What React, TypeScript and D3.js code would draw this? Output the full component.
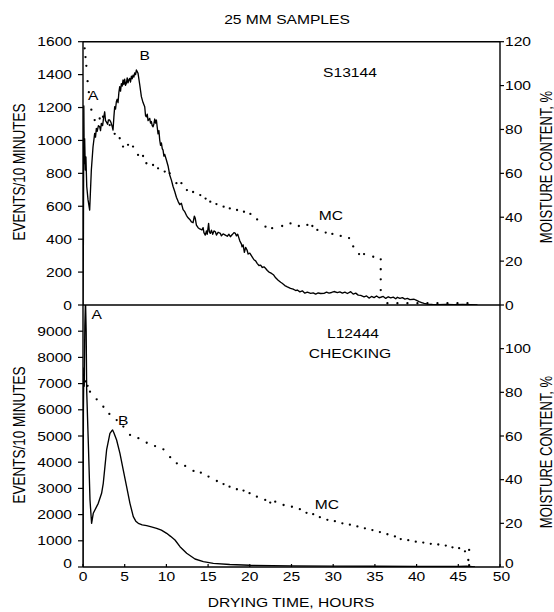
import React from "react";
import * as d3 from "d3";

// ---------- DATA ----------
const hourTicks = [0, 5, 10, 15, 20, 25, 30, 35, 40, 45, 50];
const topEventTicks = [0, 200, 400, 600, 800, 1000, 1200, 1400, 1600];
const bottomEventTicks = [0, 1000, 2000, 3000, 4000, 5000, 6000, 7000, 8000, 9000];
const topMcTicks = [0, 20, 40, 60, 80, 100, 120];
const bottomMcTicks = [0, 20, 40, 60, 80, 100];

// S13144 acoustic events/10 min  [hours, events]
const s13144Events: [number, number][] = [
  [0, 0], [0.05, 420], [0.1, 1210], [0.15, 860], [0.2, 1010], [0.28, 820], [0.35, 900], [0.45, 720],
  [0.6, 640], [0.8, 577], [1.0, 820], [1.2, 960], [1.4, 1043], [1.5, 1020], [1.6, 1073], [1.7, 1055],
  [1.85, 1090], [2.0, 1083], [2.1, 1060], [2.2, 1104], [2.35, 1090], [2.45, 1130], [2.6, 1174], [2.7, 1120],
  [2.8, 1113], [2.95, 1098], [3.05, 1125], [3.2, 1124], [3.35, 1110], [3.5, 1085], [3.6, 1063], [3.7, 1140],
  [3.8, 1205], [3.9, 1190], [4.0, 1235], [4.1, 1250], [4.2, 1230], [4.3, 1290], [4.4, 1326], [4.5, 1300],
  [4.6, 1345], [4.7, 1330], [4.8, 1367], [4.9, 1340], [5.0, 1372], [5.1, 1335], [5.2, 1347], [5.3, 1380],
  [5.4, 1350], [5.5, 1368], [5.6, 1377], [5.7, 1355], [5.8, 1390], [5.9, 1375], [6.0, 1397], [6.1, 1385],
  [6.2, 1410], [6.3, 1400], [6.4, 1428], [6.5, 1418], [6.6, 1408], [6.8, 1340], [7.0, 1266], [7.2, 1230],
  [7.4, 1205], [7.5, 1150], [7.6, 1144], [7.7, 1160], [7.8, 1120], [8.0, 1134], [8.1, 1105], [8.2, 1115],
  [8.3, 1090], [8.4, 1083], [8.5, 1100], [8.6, 1130], [8.7, 1105], [8.8, 1124], [8.9, 1080], [9.0, 1040],
  [9.1, 1060], [9.2, 1002], [9.3, 970], [9.4, 985], [9.5, 950], [9.6, 941], [9.7, 905], [9.8, 915],
  [10.0, 881], [10.2, 845], [10.4, 790], [10.6, 759], [10.8, 720], [11.0, 690], [11.2, 655], [11.4, 630],
  [11.6, 610], [11.8, 618], [12.0, 580], [12.2, 567], [12.4, 545], [12.6, 530], [12.86, 516], [13.0, 505],
  [13.2, 500], [13.35, 540], [13.46, 527], [13.6, 486], [13.8, 470], [14.0, 462], [14.26, 456], [14.4, 470],
  [14.5, 440], [14.66, 425], [14.8, 450], [14.9, 430], [15.06, 496], [15.15, 445], [15.26, 435], [15.4, 455],
  [15.55, 430], [15.7, 450], [15.87, 445], [16.0, 425], [16.2, 442], [16.47, 435], [16.6, 420], [16.8, 432],
  [17.07, 425], [17.3, 418], [17.5, 430], [17.67, 415], [17.9, 428], [18.1, 440], [18.27, 435], [18.4, 420],
  [18.55, 430], [18.67, 411], [18.8, 390], [19.0, 370], [19.07, 354], [19.2, 365], [19.35, 320], [19.5, 350],
  [19.67, 334], [19.8, 310], [20.0, 315], [20.28, 293], [20.5, 275], [20.7, 268], [20.88, 253], [21.1, 240],
  [21.3, 242], [21.5, 228], [21.7, 232], [21.88, 223], [22.1, 210], [22.3, 200], [22.5, 195], [22.7, 188],
  [22.87, 182], [23.1, 165], [23.4, 150], [23.7, 138], [23.88, 132], [24.2, 118], [24.5, 110], [24.88, 101],
  [25.2, 96], [25.5, 88], [25.7, 91], [26.0, 80], [26.3, 86], [26.6, 72], [26.9, 78], [27.3, 71],
  [27.6, 74], [27.9, 66], [28.2, 73], [28.5, 70], [28.9, 71], [29.2, 78], [29.5, 72], [29.8, 76],
  [30.1, 82], [30.5, 75], [30.8, 80], [31.1, 72], [31.4, 78], [31.7, 70], [32.1, 81], [32.4, 66],
  [32.7, 72], [33.0, 60], [33.3, 58], [33.7, 50], [34.0, 55], [34.3, 42], [34.6, 52], [34.9, 45],
  [35.2, 55], [35.5, 44], [35.7, 47], [36.0, 52], [36.3, 40], [36.6, 50], [36.9, 43], [37.2, 48],
  [37.5, 38], [37.7, 47], [38.0, 40], [38.3, 45], [38.6, 36], [38.9, 40], [39.2, 33], [39.7, 35],
  [40.0, 28], [40.3, 20], [40.6, 15], [40.9, 10], [41.3, 5], [41.9, 3], [42.5, 2], [43.5, 4],
  [44.5, 2], [45.5, 3], [46.5, 2], [47.3, 0],
];

// S13144 moisture content, %  [hours, MC]
const s13144Mc: [number, number][] = [
  [0.2, 117], [0.3, 113], [0.4, 109], [0.55, 102], [0.7, 97], [1.0, 89], [1.4, 84.3], [2.0, 85],
  [2.4, 85.8], [3.2, 82], [3.8, 78], [4.4, 76], [4.8, 72.2], [5.4, 73], [6.0, 72.2], [6.6, 68.4],
  [7.2, 67.9], [7.6, 64.6], [8.4, 63.8], [9.0, 62.3], [9.8, 60.8], [10.4, 60], [11.2, 55.5], [11.8, 55.5],
  [12.46, 52.4], [13.2, 51.5], [14.06, 50.1], [14.7, 48.5], [15.26, 47.1], [16.0, 46], [16.86, 44.8], [17.6, 44],
  [18.47, 43.3], [19.3, 42.5], [20.07, 41.5], [20.88, 39], [21.88, 35.7], [22.68, 35], [23.88, 36], [24.88, 37.2],
  [25.88, 36], [26.9, 36.5], [27.5, 36], [28.1, 34.2], [29.1, 33], [29.9, 32.4], [30.9, 31.5], [31.9, 30.5],
  [32.4, 26.7], [33.1, 23.2], [33.7, 23.2], [34.8, 22], [35.7, 20.8], [35.7, 16.3], [35.7, 11.7], [35.7, 6.8],
  [36.5, 0.8], [37.7, 0.8], [38.9, 0.8], [40.1, 0.8], [41.3, 0.8], [42.5, 0.8], [43.7, 0.8], [44.9, 0.8], [46.1, 0.8],
];

// L12444 acoustic events/10 min  [hours, events]
const l12444Events: [number, number][] = [
  [0, 0], [0.05, 6000], [0.1, 7600], [0.15, 6900], [0.22, 9200], [0.3, 10200], [0.38, 9000], [0.44, 6760],
  [0.64, 4720], [0.84, 2557], [1.03, 1668], [1.23, 2050], [1.83, 2430], [2.23, 2813], [2.43, 3195], [2.63, 3830],
  [2.83, 4466], [3.23, 5100], [3.43, 5190], [3.55, 5230], [3.7, 5126], [4.03, 4847], [4.43, 4339], [4.83, 3702],
  [5.23, 3066], [5.63, 2430], [6.03, 1921], [6.33, 1750], [6.63, 1668], [7.1, 1610], [7.63, 1576], [8.2, 1530],
  [8.83, 1477], [9.4, 1410], [10.03, 1286], [10.5, 1170], [11.03, 1031], [11.63, 776], [12.43, 523], [13.43, 305],
  [14.43, 202], [15.63, 140], [17.6, 95], [20, 65], [25, 45], [30, 35], [35, 28], [40, 22], [45, 18], [46, 35], [47, 0],
];

// L12444 moisture content, %  [hours, MC]
const l12444Mc: [number, number][] = [
  [0.1, 88], [0.3, 85], [0.55, 83], [0.84, 80.3], [1.64, 76.8], [2.44, 73.4], [3.16, 70.1], [4.04, 67.3],
  [4.84, 64.3], [5.64, 60.5], [6.64, 59], [7.64, 56.9], [8.64, 55.4], [9.64, 53.9], [10.45, 50.3], [11.25, 47.5],
  [12.25, 46.3], [13.25, 44], [14.13, 43.2], [15.05, 41.4], [16.05, 39.4], [16.85, 38], [17.57, 36.8], [18.45, 35.6],
  [19.25, 35], [19.97, 33.8], [20.85, 32.2], [21.85, 30.7], [22.45, 29.5], [23.05, 29.9], [24.05, 28.4], [25.05, 27.6],
  [26.0, 26.5], [26.8, 24.8], [27.6, 24.2], [28.4, 22.8], [29.3, 21.6], [30.2, 21], [31.1, 20], [32.0, 19.4],
  [32.9, 18.6], [33.8, 17.7], [34.7, 16.9], [35.6, 16], [36.5, 15], [37.4, 14], [38.1, 12.8], [39.0, 12.3],
  [39.9, 11.6], [40.8, 11.2], [41.7, 10.6], [42.6, 10.3], [43.5, 9.8], [44.3, 9], [45.1, 8.6], [45.8, 7.2],
  [46.3, 7.8], [46.2, 3.2], [46.3, 0.8],
];

// ---------- LAYOUT ----------
const W = 554, H = 612;
const X0 = 83, X1 = 500;
const TOP = 41.7, MID = 305, BOT = 567;
const FONT = "'Liberation Sans', Arial, Helvetica, sans-serif";
const SX = 1.25;

const x = d3.scaleLinear().domain([0, 50]).range([X0, X1]);
const yTop = d3.scaleLinear().domain([0, 1600]).range([MID, TOP]);
const mcTop = d3.scaleLinear().domain([0, 120]).range([MID, TOP]);
const yBot = d3.scaleLinear().domain([0, 10000]).range([BOT, MID]);
const mcBot = d3.scaleLinear().domain([0, 120]).range([BOT, MID]);

function T(props: { x: number; y: number; anchor?: string; size?: number; children: React.ReactNode }) {
  const { x: tx, y: ty, anchor = "start", size = 12.5, children } = props;
  return (
    <text
      transform={`translate(${tx},${ty}) scale(${SX},1)`}
      textAnchor={anchor as any}
      fontSize={size}
      fontFamily={FONT}
      fill="#000"
    >
      {children}
    </text>
  );
}

function VT(props: { x: number; y: number; size?: number; children: React.ReactNode }) {
  const { x: tx, y: ty, size = 13, children } = props;
  return (
    <text
      transform={`translate(${tx},${ty}) rotate(-90) scale(1,${SX})`}
      textAnchor="middle"
      fontSize={size}
      fontFamily={FONT}
      fill="#000"
    >
      {children}
    </text>
  );
}

export default function App() {
  const lineTop = d3.line<[number, number]>().x((d) => x(d[0])).y((d) => yTop(d[1]));
  const lineBot = d3.line<[number, number]>().x((d) => x(d[0])).y((d) => yBot(d[1]));

  return (
    <svg
      width={W}
      height={H}
      viewBox={`0 0 ${W} ${H}`}
      style={{ position: "absolute", left: 0, top: 0, background: "#fff" }}
    >
      <defs>
        <clipPath id="clipTop">
          <rect x={X0} y={TOP} width={X1 - X0} height={MID - TOP} />
        </clipPath>
        <clipPath id="clipBot">
          <rect x={X0} y={MID} width={X1 - X0} height={BOT - MID} />
        </clipPath>
      </defs>
      <rect width={W} height={H} fill="#fff" />

      {/* title */}
      <T x={287} y={23.5} anchor="middle">25 MM SAMPLES</T>

      {/* frames */}
      <g stroke="#000" strokeWidth={1.4} fill="none">
        <line x1={X0} x2={X1} y1={TOP} y2={TOP} />
        <line x1={X0} x2={X1} y1={MID} y2={MID} />
        <line x1={X0} x2={X1} y1={BOT} y2={BOT} />
        <line x1={X0} x2={X0} y1={TOP} y2={BOT} />
        <line x1={X1} x2={X1} y1={TOP} y2={BOT} />
      </g>

      {/* left ticks top */}
      {topEventTicks.map((t) => (
        <g key={"lt" + t}>
          <line x1={X0 - 5} x2={X0} y1={yTop(t)} y2={yTop(t)} stroke="#000" strokeWidth={1.2} />
          <T x={72} y={yTop(t) + 4.5} anchor="end">{t}</T>
        </g>
      ))}
      {/* left ticks bottom */}
      {bottomEventTicks.map((t) => (
        <g key={"lb" + t}>
          <line x1={X0 - 5} x2={X0} y1={yBot(t)} y2={yBot(t)} stroke="#000" strokeWidth={1.2} />
          <T x={72} y={t === 0 ? yBot(t) + 1.3 : yBot(t) + 4.5} anchor="end">{t}</T>
        </g>
      ))}

      {/* right ticks top */}
      {topMcTicks.map((t) => (
        <g key={"rt" + t}>
          <line x1={X1} x2={X1 + 4} y1={mcTop(t)} y2={mcTop(t)} stroke="#000" strokeWidth={1.2} />
          <T x={505} y={mcTop(t) + 4.5}>{t}</T>
        </g>
      ))}
      {bottomMcTicks.map((t) => (
        <g key={"rb" + t}>
          <line x1={X1} x2={X1 + 4} y1={mcBot(t)} y2={mcBot(t)} stroke="#000" strokeWidth={1.2} />
          <T x={505} y={t === 0 ? mcBot(t) + 1.3 : mcBot(t) + 4.5}>{t}</T>
        </g>
      ))}

      {/* x ticks */}
      {hourTicks.map((t) => (
        <g key={"x" + t}>
          <line x1={x(t)} x2={x(t)} y1={BOT} y2={BOT - 3} stroke="#000" strokeWidth={1.2} />
          <T x={x(t) + (t === 50 ? 1.5 : 0)} y={580.5} anchor="middle">{t}</T>
        </g>
      ))}

      {/* axis titles */}
      <VT x={25} y={172} size={13.5}>EVENTS/10 MINUTES</VT>
      <VT x={25} y={435} size={13.5}>EVENTS/10 MINUTES</VT>
      <VT x={552} y={167} size={13}>MOISTURE CONTENT, %</VT>
      <VT x={552} y={452} size={13}>MOISTURE CONTENT, %</VT>
      <T x={291} y={607} anchor="middle">DRYING TIME, HOURS</T>

      {/* top panel data */}
      <g clipPath="url(#clipTop)">
        <path d={lineTop(s13144Events) || ""} fill="none" stroke="#000" strokeWidth={1.35} strokeLinejoin="round" />
        {s13144Mc.map((d, i) => (
          <circle key={"mt" + i} cx={x(d[0])} cy={mcTop(d[1])} r={1.15} fill="#000" />
        ))}
      </g>
      {/* bottom panel data */}
      <g clipPath="url(#clipBot)">
        <path d={lineBot(l12444Events) || ""} fill="none" stroke="#000" strokeWidth={1.35} strokeLinejoin="round" />
        {l12444Mc.map((d, i) => (
          <circle key={"mb" + i} cx={x(d[0])} cy={mcBot(d[1])} r={1.15} fill="#000" />
        ))}
      </g>

      {/* annotations */}
      <T x={88} y={100}>A</T>
      <T x={139.5} y={60}>B</T>
      <T x={350} y={77} anchor="middle">S13144</T>
      <T x={331} y={220} anchor="middle">MC</T>

      <T x={91.5} y={319}>A</T>
      <T x={118} y={425}>B</T>
      <T x={353} y={338} anchor="middle">L12444</T>
      <T x={350} y={358} anchor="middle">CHECKING</T>
      <T x={327} y={509} anchor="middle">MC</T>
    </svg>
  );
}
